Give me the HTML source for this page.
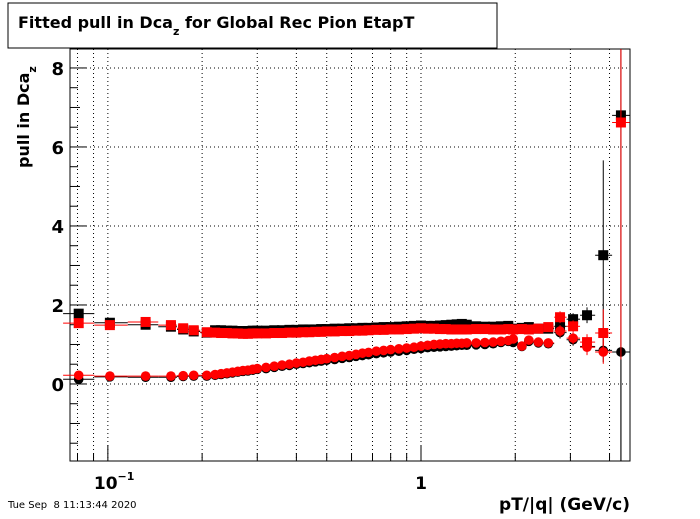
<!DOCTYPE html>
<html><head><meta charset="utf-8"><style>
body{margin:0;background:#fff;width:700px;height:514px;overflow:hidden}
text{font-family:"DejaVu Sans","Liberation Sans",sans-serif}
</style></head><body>
<svg id="chart" width="700" height="514" xmlns="http://www.w3.org/2000/svg">
<rect x="0" y="0" width="700" height="514" fill="#fff"/>
<g id="grid"></g>
<g id="axes"></g>
<g id="marks"></g>
<rect x="8" y="3" width="489" height="45" fill="#fff" stroke="#000" stroke-width="1"/>
<text x="18" y="28" font-size="16" font-weight="bold">Fitted pull in Dca<tspan font-size="11" dy="7">z</tspan><tspan dy="-7"> for Global Rec Pion EtapT</tspan></text>
<text transform="translate(29,168) rotate(-90)" font-size="16" font-weight="bold">pull in Dca<tspan font-size="11" dy="7">z</tspan></text>
<text x="630" y="510" text-anchor="end" font-size="17" font-weight="bold">pT/|q| (GeV/c)</text>
<text x="8" y="508" font-size="10" style="white-space:pre">Tue Sep  8 11:13:44 2020</text>
</svg>
<script>
const xs = [0.0807,0.1015,0.132,0.159,0.174,0.188,0.207,0.22,0.23,0.24,0.25,0.26,0.27,0.28,0.29,0.30,0.32,0.34,0.36,0.38,0.40,0.42,0.44,0.46,0.48,0.50,0.53,0.56,0.59,0.62,0.65,0.68,0.72,0.76,0.80,0.85,0.90,0.95,1.0,1.05,1.1,1.15,1.2,1.25,1.3,1.35,1.4,1.5,1.6,1.7,1.8,1.9];
const blackSq = [1.78,1.55,1.50,1.45,1.38,1.33,1.30,1.36,1.36,1.35,1.35,1.34,1.34,1.34,1.35,1.35,1.35,1.36,1.36,1.37,1.37,1.38,1.38,1.38,1.39,1.39,1.40,1.40,1.41,1.41,1.42,1.42,1.43,1.44,1.44,1.45,1.46,1.47,1.48,1.47,1.47,1.48,1.49,1.50,1.51,1.52,1.50,1.46,1.45,1.45,1.46,1.47];
const redSq = [1.54,1.49,1.57,1.49,1.41,1.36,1.31,1.30,1.29,1.29,1.28,1.28,1.27,1.27,1.28,1.28,1.28,1.29,1.29,1.30,1.30,1.31,1.31,1.32,1.32,1.33,1.33,1.34,1.34,1.35,1.35,1.36,1.37,1.37,1.38,1.38,1.39,1.40,1.41,1.40,1.40,1.39,1.39,1.38,1.38,1.38,1.38,1.39,1.39,1.38,1.38,1.39];
const blackCirc = [0.12,0.18,0.17,0.17,0.19,0.20,0.20,0.22,0.24,0.26,0.28,0.30,0.32,0.33,0.35,0.37,0.39,0.42,0.45,0.47,0.50,0.52,0.54,0.56,0.58,0.60,0.62,0.65,0.67,0.70,0.72,0.74,0.77,0.79,0.81,0.83,0.85,0.88,0.90,0.92,0.93,0.94,0.95,0.96,0.97,0.98,0.98,0.99,1.00,1.02,1.05,1.08];
const redCirc = [0.22,0.20,0.20,0.20,0.21,0.22,0.22,0.24,0.26,0.28,0.30,0.32,0.34,0.35,0.37,0.39,0.42,0.45,0.48,0.50,0.53,0.55,0.58,0.60,0.62,0.64,0.67,0.70,0.72,0.75,0.78,0.80,0.83,0.85,0.87,0.89,0.91,0.93,0.96,0.98,1.00,1.01,1.02,1.02,1.03,1.03,1.04,1.04,1.05,1.06,1.08,1.10];
const tailX = [1.97,2.10,2.21,2.37,2.55,2.78,3.06,3.39,3.82,4.35];
const tailBlackSq = [1.40,1.42,1.44,1.40,1.40,1.46,1.64,1.74,3.26,6.80];
const tailBlackSqErr = [0.05,0.05,0.06,0.06,0.08,0.1,0.15,0.2,2.4,9];
const tailRedSq = [1.38,1.39,1.38,1.40,1.44,1.69,1.46,1.06,1.29,6.62];
const tailRedSqErr = [0.05,0.05,0.06,0.06,0.08,0.15,0.15,0.2,0.6,6];
const tailBlackCirc = [1.05,0.95,1.08,1.04,1.02,1.30,1.12,0.95,0.85,0.81];
const tailBlackCircErr = [0.05,0.05,0.06,0.06,0.08,0.15,0.15,0.2,0.3,9];
const tailRedCirc = [1.14,0.96,1.11,1.06,1.04,1.34,1.16,0.93,0.81,null];
const tailRedCircErr = [0.05,0.05,0.06,0.06,0.08,0.15,0.15,0.2,0.3,0];
const yTicks = [0,2,4,6,8];
const xGrid = [0.08,0.09,0.1,0.2,0.3,0.4,0.5,0.6,0.7,0.8,0.9,1,2,3,4];

const L=70,R=630,T=49,B=461;
const xmin=Math.log10(0.0757), xmax=Math.log10(4.65), ymin=-1.95, ymax=8.48;
const X=v=>L+(Math.log10(v)-xmin)/(xmax-xmin)*(R-L);
const Y=v=>B-(v-ymin)/(ymax-ymin)*(B-T);
const NS="http://www.w3.org/2000/svg";
function mk(tag,parent,attrs){const e=document.createElementNS(NS,tag);for(const k in attrs)e.setAttribute(k,attrs[k]);parent.appendChild(e);return e;}
const grid=document.getElementById('grid'),axes=document.getElementById('axes'),marks=document.getElementById('marks');

xGrid.forEach(v=>{const e=mk('line',grid,{x1:X(v),x2:X(v),y1:T,y2:B,stroke:'#000','stroke-width':1,'stroke-dasharray':'1,3'});

});
yTicks.forEach(v=>{const e=mk('line',grid,{x1:L,x2:R,y1:Y(v),y2:Y(v),stroke:'#000','stroke-width':1,'stroke-dasharray':'1,3'});

});

const frame=mk('rect',axes,{x:L,y:T,width:R-L,height:B-T,fill:'none',stroke:'#000','stroke-width':1});


for(let v=-1.5;v<=8.4;v+=0.5){const major=yTicks.includes(v);const e=mk('line',axes,{x1:L,x2:L+(major?16:(Number.isInteger(v)?10:8)),y1:Y(v),y2:Y(v),stroke:'#000'});

}
yTicks.forEach(v=>{const t=mk('text',axes,{x:L-6,y:Y(v)+7,'text-anchor':'end','font-size':18,'font-weight':'bold'});t.textContent=v;

});
xGrid.forEach(v=>{const major=(v===0.1||v===1);const e=mk('line',axes,{x1:X(v),x2:X(v),y1:B,y2:B-(major?16:8),stroke:'#000'});

});
let t1=mk('text',axes,{x:X(0.1)-14,y:489,'font-size':17,'font-weight':'bold'});t1.innerHTML='10<tspan font-size="11" dy="-9">−1</tspan>';


let t2=mk('text',axes,{x:X(1),y:489,'font-size':17,'font-weight':'bold','text-anchor':'middle'});t2.textContent='1';



const allX=xs.concat(tailX);
function halfW(i){const lx=Math.log10(allX[i]);const prev=i>0?Math.log10(allX[i-1]):lx-(Math.log10(allX[i+1])-lx);const next=i<allX.length-1?Math.log10(allX[i+1]):lx+(lx-prev);return [Math.pow(10,(prev+lx)/2),Math.pow(10,(lx+next)/2)];}
function series(vals,errs,color,shape,name){
  vals.forEach((v,i)=>{ if(v===null)return;
    const cx=X(allX[i]),cy=Y(v);const [a,b]=halfW(i);
    const g=mk('g',marks,{});
    
    
    mk('line',g,{x1:X(a),x2:X(b),y1:cy,y2:cy,stroke:color,'stroke-width':1});
    const e=errs[i]||0;
    if(e>0)mk('line',g,{x1:cx,x2:cx,y1:Math.max(T,Y(v+e)),y2:Math.min(B,Y(v-e)),stroke:color,'stroke-width':1});
    if(shape==='sq')mk('rect',g,{x:cx-5,y:cy-5,width:10,height:10,fill:color});
    else mk('circle',g,{cx:cx,cy:cy,r:4.8,fill:color});
  });
}
const pad=n=>new Array(n).fill(0.03);
series(blackSq.concat(tailBlackSq),pad(xs.length).concat(tailBlackSqErr),'#000','sq','black-square');
series(blackCirc.concat(tailBlackCirc),pad(xs.length).concat(tailBlackCircErr),'#000','circ','black-circle');
series(redSq.concat(tailRedSq),pad(xs.length).concat(tailRedSqErr),'#f00','sq','red-square');
series(redCirc.concat(tailRedCirc),pad(xs.length).concat(tailRedCircErr),'#f00','circ','red-circle');
</script>
</body></html>
